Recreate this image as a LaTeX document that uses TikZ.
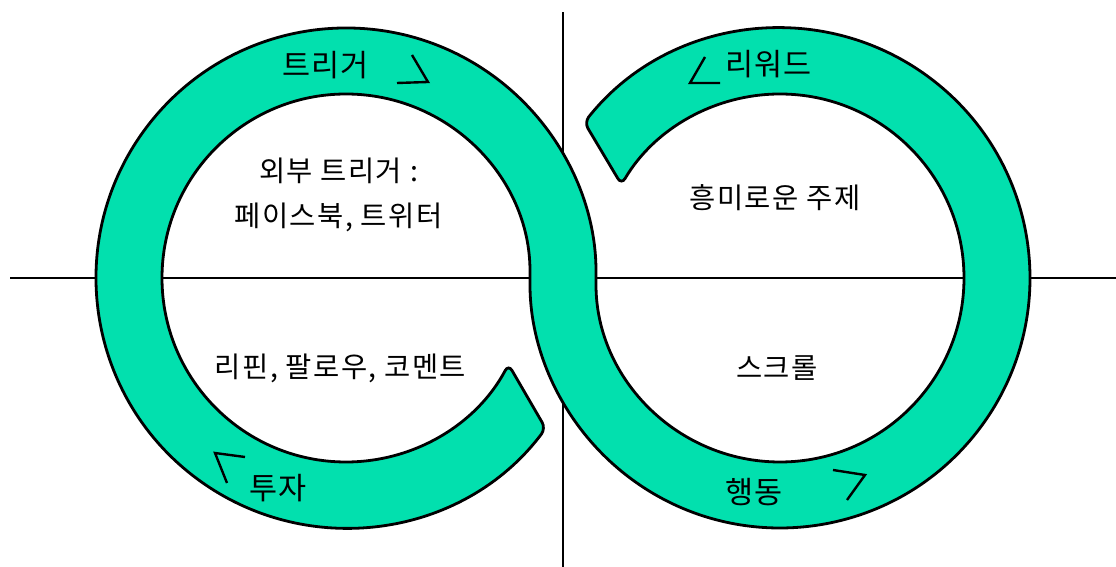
\documentclass[tikz,border=0pt]{standalone}
\usepackage{fontspec}
\setmainfont{Noto Sans CJK KR}
\usepackage{tikz}
\usetikzlibrary{calc}
\definecolor{loopgreen}{HTML}{02E0AE}

\begin{document}
\begin{tikzpicture}[x=1pt, y=1pt,
          every node/.style={font=\fontsize{28.5}{45}\selectfont\addfontfeature{LetterSpace=5},
                             align=center, inner sep=0pt},
          ringlabel/.style={font=\fontsize{30.5}{32}\selectfont\addfontfeature{LetterSpace=3}},
          axisline/.style={line width=2.6pt},
          band/.style={draw, line width=2.8pt, fill=loopgreen, rounded corners=7pt},
          chevron/.style={line width=2.4pt}
        ]
        \useasboundingbox (0,0) rectangle (1116,567);
        % axes
        \draw[axisline] (10,289) -- (1116,289);
        \draw[axisline] (563,0) -- (563,555);
        % the loop band
        \coordinate (lc) at (346,289);
        \coordinate (rc) at (780,289);
        \draw[band] ($(lc)+(-37:250)$) arc[start angle=-37, end angle=-360, radius=250]
          arc[start angle=180, end angle=509.5, radius=184]
          -- ($(rc)+(141.5:250)$)
          arc[start angle=141.5, end angle=-180, radius=250]
          arc[start angle=0, end angle=332, radius=184]
          -- cycle;
        % direction marks
        \draw[chevron] (412,512) -- (428,485) -- (397,484);
        \draw[chevron] (705,510) -- (690,484) -- (720,484);
        \draw[chevron] (245,110) -- (215,114) -- (227,84);
        \draw[chevron] (833,97) -- (865,92) -- (847,67);
        % labels
        \node[ringlabel] (trigger) at (325.5,502) {트리거};
        \node[ringlabel] (reward) at (768.5,503) {리워드};
        \node[ringlabel] (invest) at (278.5,79) {투자};
        \node[ringlabel] (action) at (754.5,75) {행동};
        \node (external) at (338.5,372.5) {외부 트리거 :\\페이스북, 트위터};
        \node (topic) at (775,369.5) {흥미로운 주제};
        \node (repin) at (340.5,199) {리핀, 팔로우, 코멘트};
        \node (scroll) at (777,199) {스크롤};
      \end{tikzpicture}
\end{document}
